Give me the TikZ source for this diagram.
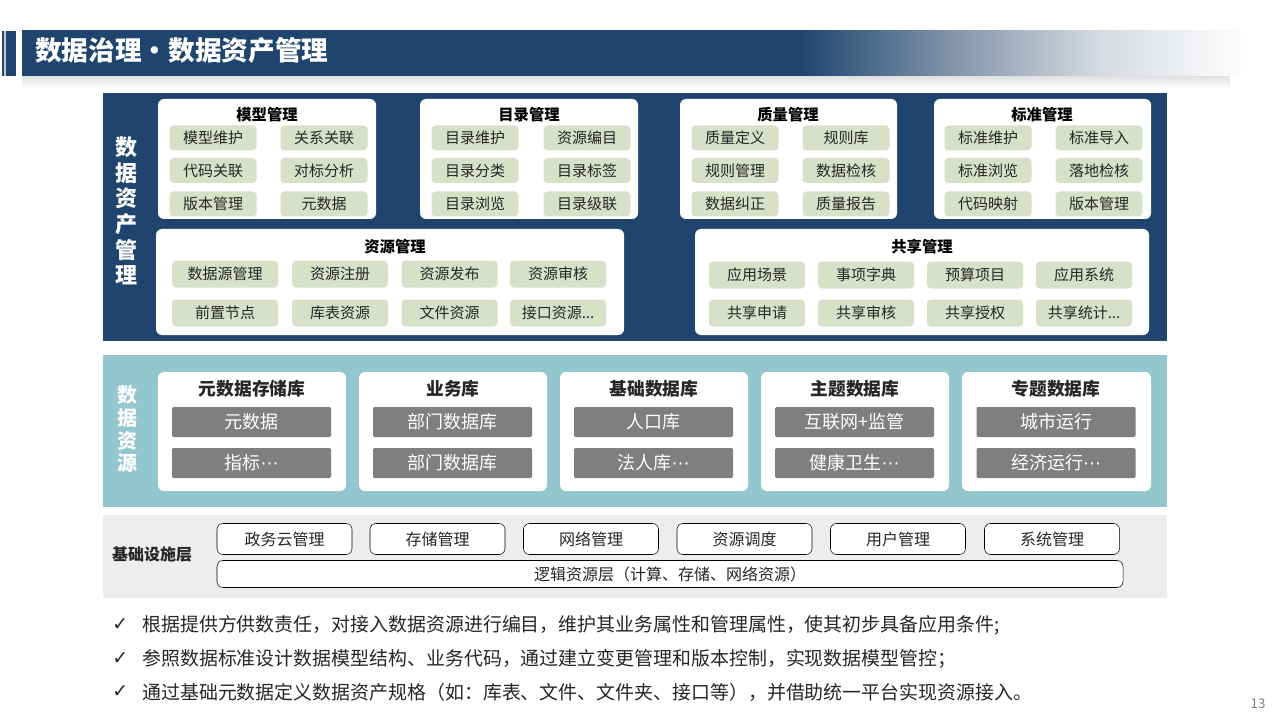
\documentclass[tikz,border=0pt]{standalone}
\usepackage{fontspec}
\setmainfont{Noto Sans CJK SC}
\newfontfamily\symfont{DejaVu Sans}
\usepackage{xcolor}
\usepackage{tikz}
\usetikzlibrary{positioning,calc}

\definecolor{navy}{RGB}{31,69,110}
\definecolor{navymid}{RGB}{128,148,170}
\definecolor{navylight}{RGB}{214,219,225}
\definecolor{sage}{RGB}{216,224,200}
\definecolor{teal}{RGB}{147,198,205}
\definecolor{infragray}{RGB}{237,237,237}
\definecolor{dbgray}{RGB}{127,127,127}
\definecolor{txt}{RGB}{38,38,38}

\pgfdeclarehorizontalshading{titlebar}{100bp}{color(0bp)=(navy); color(55.9bp)=(navy);
  color(61.9bp)=(navymid); color(67.9bp)=(navylight); color(73.8bp)=(white); color(100bp)=(white)}

\tikzset{
  node distance=1.2cm,
  panel/.style={fill=white,rounded corners=4.5pt},
  paneltitle/.style={font=\fontsize{11.5}{13}\selectfont\bfseries,text=black},
  item/.style={fill=sage,rounded corners=3pt,inner sep=0pt,
               minimum width=65.25pt,minimum height=18.75pt,
               font=\fontsize{11.25}{13}\selectfont,text=txt},
  resitem/.style={item,minimum width=72pt,minimum height=20.25pt},
  dbtitle/.style={font=\fontsize{13.3}{15}\selectfont\bfseries,text=txt},
  dbitem/.style={fill=dbgray,inner sep=0pt,rounded corners=1pt,
                 minimum width=119.25pt,minimum height=22.5pt,
                 font=\fontsize{13.5}{15}\selectfont,text=white},
  infrabox/.style={draw=black,thin,fill=white,rounded corners=4.5pt,inner sep=0pt,
                   minimum width=101.25pt,minimum height=23.25pt,
                   font=\fontsize{12}{14}\selectfont,text=txt},
  sidelabel/.style={align=center,text=white,font=\bfseries},
  bullet/.style={anchor=west,font=\fontsize{14.2}{16}\selectfont,text=txt,inner sep=0pt}
}

\begin{document}
\begin{tikzpicture}[x=0.75pt,y=-0.75pt]
          \useasboundingbox (0,0) rectangle (1280,720);

          % title bar
          \fill[navy] (2,31) rectangle (3.5,76);
          \fill[gray!45] (3.5,31) rectangle (6,76);
          \fill[navy] (6,31) rectangle (16,76);
          \shade[top color=black!12,bottom color=white] (22,76) rectangle (1230,89);
          \shade[shading=titlebar] (22,31) rectangle (1280,76);
          \node[anchor=west,text=white,inner sep=0pt,
                font=\fontsize{20}{24}\selectfont\bfseries] (title) at (35,50) {数据治理・数据资产管理};

          % ---------------- 数据资产管理 ----------------
          \fill[navy] (103,93) rectangle (1167,341);
          \node[sidelabel,font=\fontsize{16.5}{19.2}\selectfont\bfseries] (zcgl) at (126,211)
                {数\\据\\资\\产\\管\\理};

          \begin{scope}
              % 模型管理
              \fill[panel] (158,99) rectangle (376,219);
              \node[paneltitle] (mxgl) at (267,115) {模型管理};
              \node[item] (mx1) at (213,138)   {模型维护};
              \node[item] (mx2) at (324,138)   {关系关联};
              \node[item] (mx3) at (213,170.5) {代码关联};
              \node[item] (mx4) at (324,170.5) {对标分析};
              \node[item] (mx5) at (213,204)   {版本管理};
              \node[item] (mx6) at (324,204)   {元数据};

              % 目录管理
              \fill[panel] (420,99) rectangle (638,219);
              \node[paneltitle] (mlgl) at (529,115) {目录管理};
              \node[item] (ml1) at (475,138)   {目录维护};
              \node[item] (ml2) at (587,138)   {资源编目};
              \node[item] (ml3) at (475,170.5) {目录分类};
              \node[item] (ml4) at (587,170.5) {目录标签};
              \node[item] (ml5) at (475,204)   {目录浏览};
              \node[item] (ml6) at (587,204)   {目录级联};

              % 质量管理
              \fill[panel] (680,99) rectangle (897,219);
              \node[paneltitle] (zlgl) at (788,115) {质量管理};
              \node[item] (zl1) at (735,138)   {质量定义};
              \node[item] (zl2) at (846,138)   {规则库};
              \node[item] (zl3) at (735,170.5) {规则管理};
              \node[item] (zl4) at (846,170.5) {数据检核};
              \node[item] (zl5) at (735,204)   {数据纠正};
              \node[item] (zl6) at (846,204)   {质量报告};

              % 标准管理
              \fill[panel] (934,99) rectangle (1151,219);
              \node[paneltitle] (bzgl) at (1042,115) {标准管理};
              \node[item] (bz1) at (988,138)    {标准维护};
              \node[item] (bz2) at (1099,138)   {标准导入};
              \node[item] (bz3) at (988,170.5)  {标准浏览};
              \node[item] (bz4) at (1099,170.5) {落地检核};
              \node[item] (bz5) at (988,204)    {代码映射};
              \node[item] (bz6) at (1099,204)   {版本管理};

              % 资源管理
              \fill[panel] (156,229) rectangle (624,335);
              \node[paneltitle] (zygl) at (395,247) {资源管理};
              \node[resitem,minimum width=79.5pt] (zy1) at (225,274) {数据源管理};
              \node[resitem] (zy2) at (340,274)   {资源注册};
              \node[resitem] (zy3) at (449.5,274) {资源发布};
              \node[resitem] (zy4) at (558,274)   {资源审核};
              \node[resitem,minimum width=79.5pt] (zy5) at (225,313) {前置节点};
              \node[resitem] (zy6) at (340,313)   {库表资源};
              \node[resitem] (zy7) at (449.5,313) {文件资源};
              \node[resitem] (zy8) at (558,313)   {接口资源...};

              % 共享管理
              \fill[panel] (695,229) rectangle (1149,335);
              \node[paneltitle] (gxgl) at (922,247) {共享管理};
              \node[resitem] (gx1) at (757,275)  {应用场景};
              \node[resitem] (gx2) at (866,275)  {事项字典};
              \node[resitem] (gx3) at (975,275)  {预算项目};
              \node[resitem] (gx4) at (1084,275) {应用系统};
              \node[resitem] (gx5) at (757,313)  {共享申请};
              \node[resitem] (gx6) at (866,313)  {共享审核};
              \node[resitem] (gx7) at (975,313)  {共享授权};
              \node[resitem] (gx8) at (1084,313) {共享统计...};
          \end{scope}

          % ---------------- 数据资源 ----------------
          \fill[teal] (103,355) rectangle (1167,507);
          \node[sidelabel,font=\fontsize{15}{17.2}\selectfont\bfseries] (sjzy) at (127,429)
                {数\\据\\资\\源};

          \begin{scope}
              \fill[panel] (158,372) rectangle (346,491);
              \node[dbtitle] (ysj) at (252,389) {元数据存储库};
              \node[dbitem] (ysj1) at (251.5,422) {元数据};
              \node[dbitem] (ysj2) at (251.5,463) {指标{\symfont ⋯}};

              \fill[panel] (359,372) rectangle (547,491);
              \node[dbtitle] (ywk) at (453,389) {业务库};
              \node[dbitem] (ywk1) at (452.5,422) {部门数据库};
              \node[dbitem] (ywk2) at (452.5,463) {部门数据库};

              \fill[panel] (560,372) rectangle (748,491);
              \node[dbtitle] (jck) at (654,389) {基础数据库};
              \node[dbitem] (jck1) at (653.5,422) {人口库};
              \node[dbitem] (jck2) at (653.5,463) {法人库{\symfont ⋯}};

              \fill[panel] (761,372) rectangle (949,491);
              \node[dbtitle] (ztk) at (855,389) {主题数据库};
              \node[dbitem] (ztk1) at (854.5,422) {互联网+监管};
              \node[dbitem] (ztk2) at (854.5,463) {健康卫生{\symfont ⋯}};

              \fill[panel] (962,372) rectangle (1151,491);
              \node[dbtitle] (ztsj) at (1056,389) {专题数据库};
              \node[dbitem] (ztsj1) at (1056,422) {城市运行};
              \node[dbitem] (ztsj2) at (1056,463) {经济运行{\symfont ⋯}};
          \end{scope}

          % ---------------- 基础设施层 ----------------
          \fill[infragray] (103,515) rectangle (1167,598);
          \node[font=\fontsize{12}{14}\selectfont\bfseries,text=txt] (jcss) at (152,554) {基础设施层};
          \node[infrabox] (zwy)  at (284.5,539) {政务云管理};
          \node[infrabox] (ccgl) at (437.5,539) {存储管理};
          \node[infrabox] (wlgl) at (591,539)   {网络管理};
          \node[infrabox] (zydd) at (744.5,539) {资源调度};
          \node[infrabox] (yhgl) at (898,539)   {用户管理};
          \node[infrabox] (xtgl) at (1052,539)  {系统管理};
          \node[infrabox,minimum width=679.5pt,minimum height=20.25pt] (ljzy) at (670,574)
                {逻辑资源层（计算、存储、网络资源）};

          % bullets
          \node[bullet] (ck1) at (112,625) {\symfont ✓};
          \node[bullet] (ck2) at (112,659) {\symfont ✓};
          \node[bullet] (ck3) at (112,692) {\symfont ✓};
          \node[bullet] (b1) at (142,625) {根据提供方供数责任，对接入数据资源进行编目，维护其业务属性和管理属性，使其初步具备应用条件;};
          \node[bullet] (b2) at (142,659) {参照数据标准设计数据模型结构、业务代码，通过建立变更管理和版本控制，实现数据模型管控；};
          \node[bullet] (b3) at (142,692) {通过基础元数据定义数据资产规格（如：库表、文件、文件夹、接口等），并借助统一平台实现资源接入。};

          \node[text=gray,font=\fontsize{10}{12}\selectfont] (page) at (1258,704) {13};
\end{tikzpicture}
\end{document}
